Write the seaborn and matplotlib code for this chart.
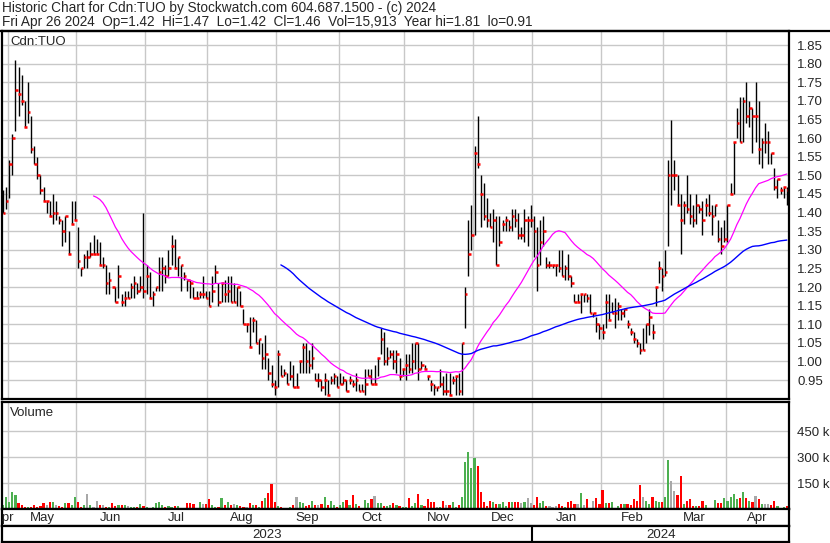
import matplotlib
matplotlib.use("Agg")
import matplotlib.pyplot as plt
from matplotlib.lines import Line2D
import numpy as np
import pandas as pd
import seaborn as sns

# daily bars, Cdn:TUO (Apr 2023 - Apr 26 2024)
close = [1.40, 1.43, 1.53, 1.60, 1.73, 1.72, 1.70, 1.63, 1.67, 1.57, 1.53, 1.50, 1.46, 1.43, 1.43, 1.39, 1.40, 1.40, 1.38, 1.35,
         1.39, 1.29, 1.37, 1.38, 1.27, 1.25, 1.28, 1.28, 1.29, 1.29, 1.29, 1.26, 1.26, 1.21, 1.22, 1.20, 1.16, 1.23, 1.16, 1.17,
         1.17, 1.20, 1.21,
         1.19, 1.20, 1.19, 1.23, 1.17, 1.18, 1.20, 1.24, 1.25, 1.23, 1.25, 1.31, 1.25, 1.28, 1.26, 1.23, 1.22, 1.21, 1.17, 1.17,
         1.18, 1.18, 1.17, 1.15, 1.19, 1.24, 1.16, 1.21, 1.18, 1.19, 1.16, 1.16, 1.20, 1.15, 1.10, 1.10, 1.04, 1.11, 1.05, 1.06,
         1.01,
         1.02, 0.97, 0.94, 0.93, 1.02, 0.96, 0.97, 0.94, 0.96, 0.93, 0.93, 1.00, 1.04, 1.00, 0.99, 1.01, 0.95, 0.95, 0.93, 0.95,
         0.91, 0.95, 0.96, 0.93, 0.94, 0.95, 0.92, 0.95, 0.94, 0.95, 0.92, 0.92, 0.94, 0.96, 0.94, 0.94, 1.01, 1.06, 1.00, 1.01,
         1.02, 1.00,
         1.02, 0.96, 0.98, 0.99, 0.98, 1.00, 1.05, 0.98, 0.99, 0.98, 0.96, 0.94, 0.93, 0.93, 0.94, 0.92, 0.92, 0.91, 0.95, 0.96,
         0.92, 1.05, 1.18, 1.29, 1.34, 1.56, 1.53, 1.45, 1.39, 1.38, 1.36, 1.38, 1.26, 1.32, 1.37, 1.38, 1.36, 1.39, 1.38, 1.34,
         1.34, 1.38,
         1.38, 1.38, 1.35, 1.26, 1.32, 1.35, 1.26, 1.26, 1.26, 1.26, 1.25, 1.23, 1.25, 1.23, 1.21, 1.16, 1.16, 1.18, 1.18, 1.17,
         1.13, 1.13, 1.10, 1.09, 1.08, 1.16, 1.11, 1.13, 1.13, 1.15, 1.13, 1.14, 1.10, 1.08, 1.06, 1.05, 1.03, 1.03, 1.10, 1.12,
         1.08, 1.20,
         1.25, 1.23, 1.24, 1.50, 1.50, 1.50, 1.42, 1.38, 1.42, 1.41, 1.39, 1.38, 1.42, 1.41, 1.38, 1.42, 1.40, 1.39, 1.42, 1.33,
         1.31, 1.33, 1.42, 1.45, 1.59, 1.64, 1.59, 1.70, 1.66, 1.68, 1.66, 1.66, 1.57, 1.59, 1.59, 1.59, 1.56, 1.47, 1.49, 1.46,
         1.47, 1.46]

high = [1.46, 1.47, 1.54, 1.61, 1.81, 1.79, 1.77, 1.70, 1.75, 1.66, 1.58, 1.55, 1.50, 1.47, 1.43, 1.43, 1.45, 1.43, 1.39, 1.38,
        1.39, 1.35, 1.43, 1.43, 1.36, 1.25, 1.29, 1.30, 1.32, 1.34, 1.33, 1.32, 1.28, 1.26, 1.24, 1.20, 1.20, 1.26, 1.18, 1.19,
        1.19, 1.21, 1.23,
        1.21, 1.23, 1.40, 1.26, 1.24, 1.19, 1.20, 1.28, 1.28, 1.26, 1.30, 1.34, 1.33, 1.28, 1.26, 1.24, 1.22, 1.22, 1.20, 1.19,
        1.19, 1.23, 1.19, 1.19, 1.23, 1.26, 1.21, 1.21, 1.22, 1.23, 1.23, 1.21, 1.20, 1.19, 1.14, 1.10, 1.12, 1.12, 1.11, 1.06,
        1.05,
        1.07, 1.01, 0.99, 0.95, 1.03, 0.99, 0.98, 0.97, 1.00, 0.99, 0.97, 1.00, 1.05, 1.05, 1.03, 1.05, 0.97, 0.97, 0.95, 0.97,
        0.95, 0.96, 0.97, 0.96, 0.97, 0.96, 0.95, 0.96, 0.95, 0.97, 0.94, 0.94, 0.98, 0.98, 0.98, 0.99, 1.01, 1.09, 1.08, 1.04,
        1.03, 1.03,
        1.03, 1.01, 0.98, 1.02, 1.02, 1.05, 1.05, 1.05, 1.00, 0.99, 0.96, 0.95, 0.94, 0.93, 0.98, 0.96, 0.97, 0.97, 0.96, 0.96,
        0.97, 1.05, 1.20, 1.38, 1.42, 1.58, 1.66, 1.50, 1.48, 1.44, 1.40, 1.41, 1.39, 1.39, 1.38, 1.39, 1.38, 1.41, 1.41, 1.40,
        1.36, 1.41,
        1.39, 1.42, 1.39, 1.36, 1.38, 1.39, 1.28, 1.27, 1.26, 1.26, 1.30, 1.30, 1.26, 1.29, 1.23, 1.18, 1.18, 1.18, 1.18, 1.18,
        1.18, 1.13, 1.12, 1.10, 1.10, 1.18, 1.18, 1.16, 1.17, 1.16, 1.14, 1.14, 1.11, 1.09, 1.08, 1.06, 1.05, 1.09, 1.10, 1.14,
        1.10, 1.20,
        1.27, 1.25, 1.30, 1.54, 1.65, 1.54, 1.50, 1.45, 1.43, 1.50, 1.45, 1.42, 1.45, 1.42, 1.43, 1.44, 1.45, 1.42, 1.42, 1.38,
        1.36, 1.38, 1.42, 1.48, 1.59, 1.68, 1.71, 1.71, 1.75, 1.70, 1.68, 1.75, 1.70, 1.60, 1.64, 1.62, 1.56, 1.52, 1.49, 1.47,
        1.47, 1.47]

low = [1.40, 1.41, 1.44, 1.50, 1.62, 1.66, 1.69, 1.63, 1.64, 1.56, 1.53, 1.49, 1.45, 1.43, 1.40, 1.39, 1.37, 1.38, 1.37, 1.31,
       1.32, 1.29, 1.37, 1.38, 1.25, 1.23, 1.25, 1.25, 1.28, 1.29, 1.29, 1.26, 1.25, 1.18, 1.18, 1.20, 1.16, 1.17, 1.15, 1.15,
       1.17, 1.17, 1.17,
       1.18, 1.19, 1.17, 1.18, 1.17, 1.15, 1.19, 1.19, 1.19, 1.21, 1.23, 1.26, 1.25, 1.23, 1.19, 1.22, 1.19, 1.17, 1.17, 1.17,
       1.17, 1.17, 1.17, 1.15, 1.16, 1.21, 1.15, 1.16, 1.16, 1.16, 1.16, 1.16, 1.15, 1.15, 1.10, 1.08, 1.04, 1.08, 1.05, 1.02,
       0.98,
       0.98, 0.95, 0.93, 0.91, 0.93, 0.96, 0.96, 0.94, 0.95, 0.93, 0.93, 0.97, 0.97, 0.97, 0.97, 0.98, 0.95, 0.93, 0.92, 0.91,
       0.91, 0.94, 0.94, 0.93, 0.94, 0.94, 0.92, 0.94, 0.93, 0.92, 0.92, 0.92, 0.91, 0.96, 0.94, 0.94, 0.96, 1.02, 0.99, 0.99,
       1.01, 0.98,
       0.97, 0.95, 0.96, 0.95, 0.97, 0.97, 0.98, 0.95, 0.98, 0.98, 0.95, 0.92, 0.91, 0.92, 0.93, 0.91, 0.91, 0.91, 0.94, 0.91,
       0.91, 0.91, 1.09, 1.23, 1.30, 1.34, 1.52, 1.36, 1.38, 1.36, 1.36, 1.32, 1.26, 1.31, 1.35, 1.35, 1.35, 1.35, 1.36, 1.33,
       1.33, 1.32,
       1.31, 1.36, 1.28, 1.19, 1.26, 1.31, 1.25, 1.25, 1.25, 1.23, 1.24, 1.23, 1.22, 1.22, 1.20, 1.16, 1.16, 1.13, 1.16, 1.16,
       1.13, 1.12, 1.08, 1.06, 1.06, 1.09, 1.11, 1.13, 1.09, 1.11, 1.11, 1.12, 1.09, 1.07, 1.05, 1.04, 1.02, 1.03, 1.05, 1.07,
       1.06, 1.15,
       1.21, 1.19, 1.23, 1.31, 1.42, 1.46, 1.42, 1.29, 1.37, 1.40, 1.37, 1.36, 1.37, 1.40, 1.34, 1.39, 1.39, 1.34, 1.39, 1.32,
       1.29, 1.32, 1.32, 1.45, 1.45, 1.60, 1.59, 1.59, 1.64, 1.63, 1.56, 1.59, 1.53, 1.52, 1.56, 1.53, 1.53, 1.46, 1.44, 1.45,
       1.44, 1.42]

# volume in thousands of shares
volume_k = [23, 72, 43, 101, 80, 33, 23, 14, 14, 14, 23, 14, 17, 33, 23, 41, 41, 23, 17, 14,
            33, 33, 23, 72, 43, 10, 23, 87, 23, 10, 47, 23, 23, 14, 10, 33, 17, 23, 23, 23,
            17, 14, 14, 10, 29, 17, 10, 4, 10, 33, 41, 23, 14, 16, 14, 16, 16, 8, 8, 33,
            33, 29, 8, 41, 29, 29, 60, 23, 14, 14, 62, 23, 41, 23, 27, 23, 19, 14, 14, 33,
            23, 23, 14, 49, 66, 91, 146, 43, 17, 14, 6, 6, 14, 23, 72, 41, 33, 17, 23, 47,
            23, 23, 29, 72, 23, 49, 23, 10, 23, 41, 52, 23, 81, 29, 17, 6, 52, 37, 58, 76,
            33, 33, 17, 19, 23, 33, 23, 19, 14, 10, 64, 17, 33, 87, 23,
            17, 58, 39, 43, 10, 10, 47, 23, 23, 41, 10, 23, 68, 274, 332, 239, 297, 250, 99, 41,
            17, 47, 41, 29, 29, 41, 17, 41, 41, 41, 41, 33, 41, 64, 33, 23, 70, 33, 47, 17,
            17, 14, 17, 29, 17, 10, 41, 47, 29, 29, 93, 23, 58, 6, 47, 64, 29, 111, 33, 33,
            41, 6, 17, 29, 29, 29, 23, 58, 47, 140, 70, 47, 29, 70, 47, 41, 41, 70, 285, 165,
            105, 81, 192, 29, 47, 58, 17, 17, 17, 47, 23, 6, 6, 52, 35, 35, 64, 47, 70, 87,
            58, 64, 99, 64, 47, 41, 76, 58, 29, 29, 29, 23, 47, 17, 6, 14, 16]

# TSX/TSXV closures in the window
holidays = ["2023-05-22", "2023-07-03", "2023-08-07", "2023-09-04", "2023-10-09",
            "2023-12-25", "2023-12-26", "2024-01-01", "2024-02-19", "2024-03-29"]

month_names = ["Jan", "Feb", "Mar", "Apr", "May", "Jun", "Jul", "Aug", "Sep", "Oct", "Nov", "Dec"]

header1 = "Historic Chart for Cdn:TUO by Stockwatch.com 604.687.1500 - (c) 2024"
header2 = "Fri Apr 26 2024  Op=1.42  Hi=1.47  Lo=1.42  Cl=1.46  Vol=15,913  Year hi=1.81  lo=0.91"

n = len(close)
days = pd.bdate_range("2023-01-02", "2024-04-26", freq="C", holidays=holidays)[-n:]
df = pd.DataFrame({"date": days, "x": np.arange(n), "close": close, "high": high, "low": low,
                   "volume": np.array(volume_k) * 1000})
df["ma30"] = df["close"].rolling(30).mean()
df["ma90"] = df["close"].rolling(90).mean()
chg = df["close"].diff().fillna(1)
df["vcol"] = np.where(chg > 0, "#4caf50", np.where(chg < 0, "#ff0000", "#a8a8a8"))

sns.set_style("white")
plt.rcParams["font.family"] = ["Liberation Sans", "DejaVu Sans"]

W, H = 830, 543
fig = plt.figure(figsize=(W / 100, H / 100), dpi=100)


def add_ax(left, top, right, bottom):
    return fig.add_axes([left / W, 1 - bottom / H, (right - left) / W, (bottom - top) / H])


xlo, xhi = -0.3, n - 0.3
grid_c = "#c8c8c8"

df["ym"] = df["date"].dt.to_period("M")
months = df.groupby("ym")["x"].agg(["min", "max"])
month_lines = [m - 0.5 for m in months["min"] if m > 0]

# price panel
ax = add_ax(2, 31, 789, 399)
ax.vlines(df["x"], df["low"], df["high"], color="black", lw=1.0)
ax.hlines(df["close"], df["x"] - 0.1, df["x"] + 0.75, color="red", lw=1.8)
sns.lineplot(x=df["x"], y=df["ma30"], ax=ax, color="#ff00ff", lw=0.9)
sns.lineplot(x=df["x"], y=df["ma90"], ax=ax, color="#0000ff", lw=1.0)
ax.set_xlim(xlo, xhi)
ax.set_ylim(0.899, 1.888)
ax.set_yticks(np.round(np.arange(0.95, 1.851, 0.05), 2))
ax.yaxis.set_major_formatter(plt.FormatStrFormatter("%.2f"))
ax.yaxis.tick_right()
ax.tick_params(axis="y", length=0, pad=6, labelsize=9.5)
ax.set_xticks([])
ax.set_xlabel("")
ax.set_ylabel("")
ax.grid(axis="y", color=grid_c, lw=1.0)
for m in month_lines:
    ax.axvline(m, color=grid_c, lw=1.0, zorder=0)
ax.set_axisbelow(True)
ax.text(8 / 787, 1 - 11 / 368, "Cdn:TUO", transform=ax.transAxes, fontsize=9.5, va="center")

# volume panel
axv = add_ax(2, 402, 789, 509)
axv.bar(df["x"], df["volume"], width=0.7, color=df["vcol"], linewidth=0)
axv.set_xlim(xlo, xhi)
axv.set_ylim(0, 620000)
axv.set_yticks([150000, 300000, 450000])
axv.set_yticklabels(["150 k", "300 k", "450 k"])
axv.yaxis.tick_right()
axv.tick_params(axis="y", length=0, pad=6, labelsize=9.5)
axv.set_xticks([])
axv.grid(axis="y", color=grid_c, lw=1.0)
for m in month_lines:
    axv.axvline(m, color=grid_c, lw=1.0, zorder=0)
axv.set_axisbelow(True)
axv.text(8 / 787, 1 - 11 / 107, "Volume", transform=axv.transAxes, fontsize=9.5, va="center")

# month strip ("Apr" of 2023 is cut by the left edge, as in the original)
axd = add_ax(2, 509, 789, 526)
axd.set_xlim(xlo, xhi)
axd.set_ylim(0, 1)
axd.set_xticks([])
axd.set_yticks([])
for ym, row in months.iterrows():
    axd.text((row["min"] + row["max"]) / 2, 0.45, month_names[ym.month - 1], ha="center", va="center",
             fontsize=9.5, clip_on=True)

# year strip
axy = add_ax(2, 526, 789, 542)
axy.set_xlim(xlo, xhi)
axy.set_ylim(0, 1)
axy.set_xticks([])
axy.set_yticks([])
jan = df.loc[df["date"].dt.year == 2024, "x"].min() - 0.5
axy.axvline(jan, color="black", lw=1.5)
axy.text((xlo + jan) / 2, 0.45, "2023", ha="center", va="center", fontsize=9.5)
axy.text((jan + xhi) / 2, 0.45, "2024", ha="center", va="center", fontsize=9.5)

for a in (ax, axv, axd, axy):
    for s in a.spines.values():
        s.set_color("black")
        s.set_linewidth(1.6)

fig.add_artist(Line2D([0, 1], [1 - 31 / H, 1 - 31 / H], color="black", lw=1.6))
fig.text(2 / W, 1 - 8 / H, header1, fontsize=9.8, va="center")
fig.text(2 / W, 1 - 22 / H, header2, fontsize=9.8, va="center")

fig.savefig("out.png", dpi=100)
